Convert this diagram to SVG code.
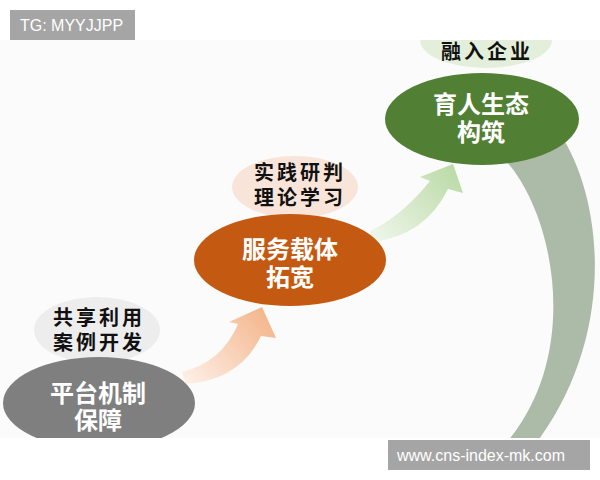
<svg xmlns="http://www.w3.org/2000/svg" width="600" height="480" viewBox="0 0 600 480">
<style>
.lbl{font-family:"Liberation Sans",Arial,sans-serif;font-size:16px;fill:#ffffff}
.wt{font-family:"Noto Sans CJK SC",sans-serif;font-size:24px;font-weight:700;fill:#ffffff;text-anchor:middle}
.bt{font-family:"Noto Sans CJK SC",sans-serif;font-size:20px;font-weight:700;fill:#111111;text-anchor:middle;letter-spacing:3px}
.box{fill:#a5a5a5}
</style>
<defs>
<clipPath id="area"><rect x="0" y="40" width="600" height="398"/></clipPath>
<linearGradient id="gGreen" gradientUnits="userSpaceOnUse" x1="372" y1="238" x2="455" y2="170">
<stop offset="0" stop-color="#eff6eb"/><stop offset="1" stop-color="#bcdba8"/>
</linearGradient>
<linearGradient id="gOrange" gradientUnits="userSpaceOnUse" x1="184" y1="378" x2="262" y2="310">
<stop offset="0" stop-color="#fdefe6"/><stop offset="1" stop-color="#f4b78e"/>
</linearGradient>
</defs>
<rect x="0" y="0" width="600" height="480" fill="#ffffff"/>
<g clip-path="url(#area)">
<rect x="0" y="40" width="600" height="398" fill="#fbfbfb"/>
<g id="connectors">
<path id="arc-return" d="M 556,128 C 602,190 620,330 537,442 L 507,442 C 584,350 552,210 505,160 Z" fill="#acbba8"/>
<path id="arrow-orange" d="M 182,372 Q 222,362 238,324 L 229,322 L 262,307 L 276,338 L 261,336 Q 240,380 186,384 Z" fill="url(#gOrange)"/>
<path id="arrow-green" d="M 370,231 Q 402,216 430,181 L 420,177 L 453,164 L 463,193 L 448,189 Q 425,236 372,242 Z" fill="url(#gGreen)"/>
</g>
<g id="node-rongru">
<ellipse cx="486" cy="40" rx="66" ry="28" fill="#e3efda"/>
<text class="bt" x="487" y="59">融入企业</text>
</g>
<g id="node-yuren">
<ellipse cx="482" cy="119" rx="97" ry="46" fill="#517f33"/>
<text class="wt" x="481" y="113">育人生态</text>
<text class="wt" x="481" y="141">构筑</text>
</g>
<g id="node-shijian">
<ellipse cx="295" cy="187" rx="63" ry="31" fill="#f9e4d9"/>
<text class="bt" x="300" y="180">实践研判</text>
<text class="bt" x="300" y="205">理论学习</text>
</g>
<g id="node-fuwu">
<ellipse cx="290" cy="260" rx="96" ry="46" fill="#c45a12"/>
<text class="wt" x="290" y="258">服务载体</text>
<text class="wt" x="290" y="286">拓宽</text>
</g>
<g id="node-gongxiang">
<ellipse cx="97" cy="330" rx="63" ry="33" fill="#ededed"/>
<text class="bt" x="99" y="325">共享利用</text>
<text class="bt" x="99" y="350">案例开发</text>
</g>
<g id="node-pingtai">
<ellipse cx="99" cy="403" rx="96" ry="46" fill="#7f7f7f"/>
<text class="wt" x="98" y="402">平台机制</text>
<text class="wt" x="98" y="429">保障</text>
</g>
</g>
<g id="label-tg">
<rect class="box" x="10" y="10" width="125" height="30"/>
<text class="lbl" x="20" y="31">TG: MYYJJPP</text>
</g>
<g id="label-url">
<rect class="box" x="388" y="440" width="202" height="30"/>
<text class="lbl" x="397" y="461">www.cns-index-mk.com</text>
</g>
</svg>
